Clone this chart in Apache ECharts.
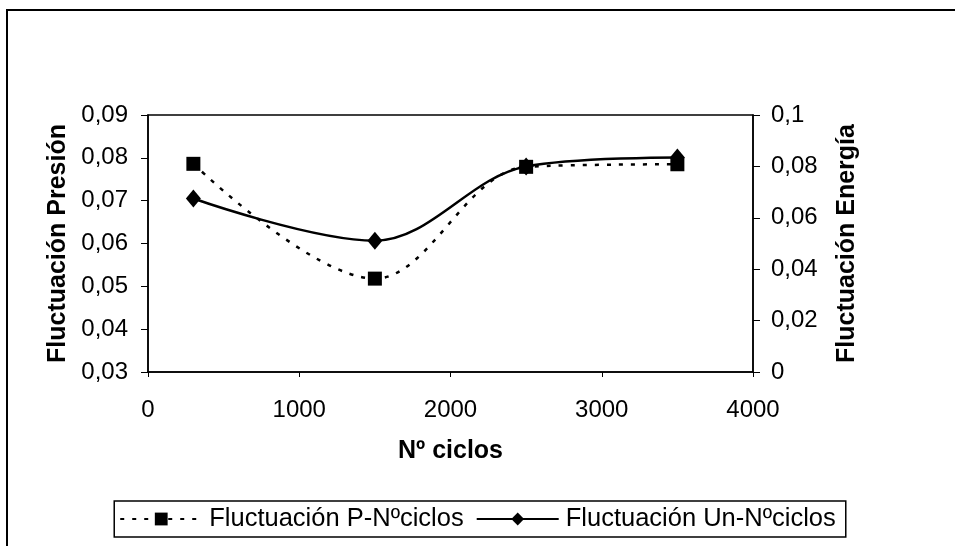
<!DOCTYPE html>
<html>
<head>
<meta charset="utf-8">
<script src="https://cdn.jsdelivr.net/npm/echarts@6/dist/echarts.min.js"></script>
<style>
html,body{margin:0;padding:0;background:#fff;}
#chart{width:955px;height:546px;}
</style>
</head>
<body>
<div id="chart"></div>
<script>
var ciclos = [300, 1500, 2500, 3500];
var presionValues = [0.0786, 0.0518, 0.0779, 0.0785];
var energiaValues = [0.0675, 0.0511, 0.0800, 0.0835];
var seriesNames = ['Fluctuación P-Nºciclos', 'Fluctuación Un-Nºciclos'];

function fmt(v){ return String(parseFloat(v.toFixed(3))).replace('.', ','); }
function pairs(xs, ys){ return xs.map(function(x,i){ return [x, ys[i]]; }); }

var font = 'Liberation Sans, Arial, sans-serif';
var chart = echarts.init(document.getElementById('chart'), null, {renderer:'canvas'});
chart.setOption({
  animation:false,
  backgroundColor:'#fff',
  graphic:[{type:'rect', shape:{x:7,y:10,width:1000,height:700}, style:{fill:'none', stroke:'#000', lineWidth:2}, z:-1}],
  grid:{left:148, right:202, top:115, bottom:174, show:true, borderColor:'#000', borderWidth:1.5},
  legend:{
    data:seriesNames,
    left:'center', bottom:9,
    orient:'horizontal',
    itemWidth:82, itemHeight:16, itemGap:12,
    borderColor:'#000', borderWidth:1.5, padding:[5,10,5,5],
    textStyle:{fontFamily:font, fontSize:25.5, color:'#000', padding:[0,0,0,2]}
  },
  xAxis:{
    type:'value', min:0, max:4000, interval:1000,
    name:'Nº ciclos', nameLocation:'middle', nameGap:67,
    nameTextStyle:{fontFamily:font, fontSize:25, fontWeight:'bold', color:'#000'},
    axisLine:{lineStyle:{color:'#000', width:1.5}},
    axisTick:{show:true, length:5, lineStyle:{color:'#000'}},
    axisLabel:{fontFamily:font, fontSize:24, color:'#000', margin:26, formatter:function(v){return String(v);}},
    splitLine:{show:false}
  },
  yAxis:[{
    type:'value', min:0.03, max:0.09, interval:0.01,
    name:'Fluctuación Presión', nameLocation:'middle', nameGap:77, nameRotate:90,
    nameTextStyle:{fontFamily:font, fontSize:25, fontWeight:'bold', color:'#000'},
    axisLine:{show:true, lineStyle:{color:'#000', width:1.5}},
    axisTick:{show:true, length:7, lineStyle:{color:'#000'}},
    axisLabel:{fontFamily:font, fontSize:24, color:'#000', margin:20, formatter:fmt},
    splitLine:{show:false}
  },{
    type:'value', min:0, max:0.1, interval:0.02, position:'right',
    name:'Fluctuación Energía', nameLocation:'middle', nameGap:82, nameRotate:90,
    nameTextStyle:{fontFamily:font, fontSize:25, fontWeight:'bold', color:'#000'},
    axisLine:{show:true, lineStyle:{color:'#000', width:1.5}},
    axisTick:{show:true, length:7, lineStyle:{color:'#000'}},
    axisLabel:{fontFamily:font, fontSize:24, color:'#000', margin:18, formatter:fmt},
    splitLine:{show:false}
  }],
  series:[{
    name:seriesNames[0], type:'line', yAxisIndex:0, smooth:0.35,
    data:pairs(ciclos, presionValues),
    symbol:'rect', symbolSize:14,
    itemStyle:{color:'#000'},
    lineStyle:{color:'#000', width:2.5, type:[4,8]}
  },{
    name:seriesNames[1], type:'line', yAxisIndex:1, smooth:0.35,
    data:pairs(ciclos, energiaValues),
    symbol:'diamond', symbolSize:[15,18],
    itemStyle:{color:'#000'},
    lineStyle:{color:'#000', width:2.5, type:'solid'}
  }]
});
</script>
</body>
</html>
